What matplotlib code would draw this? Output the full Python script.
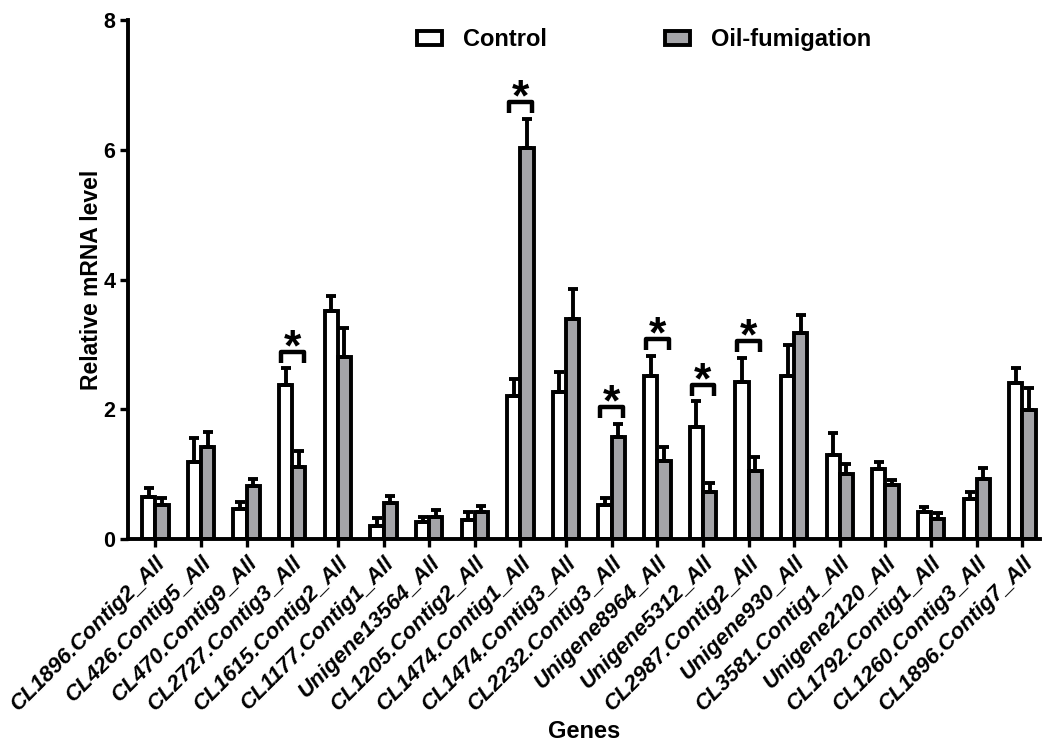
import numpy as np
import matplotlib
matplotlib.use('Agg')
import matplotlib.pyplot as plt
from matplotlib.patches import Patch

plt.rcParams['font.family'] = ['Liberation Sans', 'DejaVu Sans']
plt.rcParams['font.weight'] = 'bold'

# ---- data ----
genes = ['CL1896.Contig2_All', 'CL426.Contig5_All', 'CL470.Contig9_All', 'CL2727.Contig3_All',
         'CL1615.Contig2_All', 'CL1177.Contig1_All', 'Unigene13564_All', 'CL1205.Contig2_All',
         'CL1474.Contig1_All', 'CL1474.Contig3_All', 'CL2232.Contig3_All', 'Unigene8964_All',
         'Unigene5312_All', 'CL2987.Contig2_All', 'Unigene930_All', 'CL3581.Contig1_All',
         'Unigene2120_All', 'CL1792.Contig1_All', 'CL1260.Contig3_All', 'CL1896.Contig7_All']

control = [0.65, 1.19, 0.46, 2.38, 3.51, 0.20, 0.26, 0.29, 2.21, 2.26,
           0.52, 2.52, 1.72, 2.42, 2.51, 1.29, 1.08, 0.41, 0.62, 2.40]
control_err = [0.14, 0.36, 0.11, 0.25, 0.23, 0.12, 0.08, 0.12, 0.25, 0.32,
               0.11, 0.30, 0.40, 0.37, 0.48, 0.35, 0.11, 0.08, 0.11, 0.24]
oil = [0.52, 1.42, 0.82, 1.11, 2.80, 0.55, 0.34, 0.41, 6.02, 3.39,
       1.58, 1.20, 0.72, 1.05, 3.18, 1.00, 0.83, 0.31, 0.92, 1.99]
oil_err = [0.11, 0.23, 0.10, 0.25, 0.45, 0.11, 0.10, 0.10, 0.45, 0.46,
           0.20, 0.22, 0.14, 0.22, 0.27, 0.16, 0.08, 0.09, 0.17, 0.34]

significant = [3, 8, 10, 11, 12, 13]  # 带 * 的基因

yticks = [0, 2, 4, 6, 8]

# ---- plot ----
fig = plt.figure(figsize=(10.42, 7.44), dpi=100)
ax = fig.add_axes([0.1228, 0.2755, 0.875, 0.6976])

x = np.arange(len(genes))
w = 0.29
lw = 2.8
grey = '#a4a4a8'

ax.bar(x - w / 2, control, width=w, color='white', edgecolor='black', linewidth=lw, zorder=2)
ax.bar(x + w / 2, oil, width=w, color=grey, edgecolor='black', linewidth=lw, zorder=2)

ax.errorbar(x - w / 2, control, yerr=[np.zeros(len(x)), control_err], fmt='none',
            ecolor='black', elinewidth=2.8, capsize=3.5, capthick=2.8, zorder=3)
ax.errorbar(x + w / 2, oil, yerr=[np.zeros(len(x)), oil_err], fmt='none',
            ecolor='black', elinewidth=2.8, capsize=3.5, capthick=2.8, zorder=3)

# significance brackets
bw = 0.25
for i in significant:
    top = max(control[i] + control_err[i], oil[i] + oil_err[i])
    y0 = top + 0.09
    y1 = top + 0.26
    ax.plot([i - bw, i - bw, i + bw, i + bw], [y0, y1, y1, y0],
            color='black', linewidth=3.2, solid_capstyle='butt', solid_joinstyle='round', zorder=3)
    ax.text(i, y1 - 0.13, '*', ha='center', va='baseline', fontsize=32, fontweight='bold')

ax.set_xlim(-0.6, 19.38)
ax.set_ylim(0, 8)
ax.set_yticks(yticks)
ax.set_xticks(x)
ax.set_xticklabels(genes, rotation=45, ha='right', rotation_mode='anchor',
                   fontsize=16, fontstyle='italic', fontweight='bold')
for lab in ax.get_yticklabels():
    lab.set_fontsize(15.5)
    lab.set_fontweight('bold')

ax.spines['top'].set_visible(False)
ax.spines['right'].set_visible(False)
ax.spines['left'].set_linewidth(2.8)
ax.spines['bottom'].set_linewidth(2.8)
ax.tick_params(axis='both', direction='out', length=6, width=2.4)
ax.tick_params(axis='y', pad=3)

ax.set_ylabel('Relative mRNA level', fontsize=16.5, fontweight='bold', labelpad=0)
ax.set_xlabel('Genes', fontsize=17, fontweight='bold', labelpad=4)

handles = [Patch(facecolor='white', edgecolor='black', linewidth=2.8, label='Control'),
           Patch(facecolor=grey, edgecolor='black', linewidth=2.8, label='Oil-fumigation')]
ax.legend(handles=handles, loc='upper center', bbox_to_anchor=(0.566, 1.025), ncol=2,
          frameon=False, fontsize=17, columnspacing=5.0, handlelength=1.05, handleheight=0.55,
          handletextpad=0.9)

fig.savefig('out.png', dpi=100)
